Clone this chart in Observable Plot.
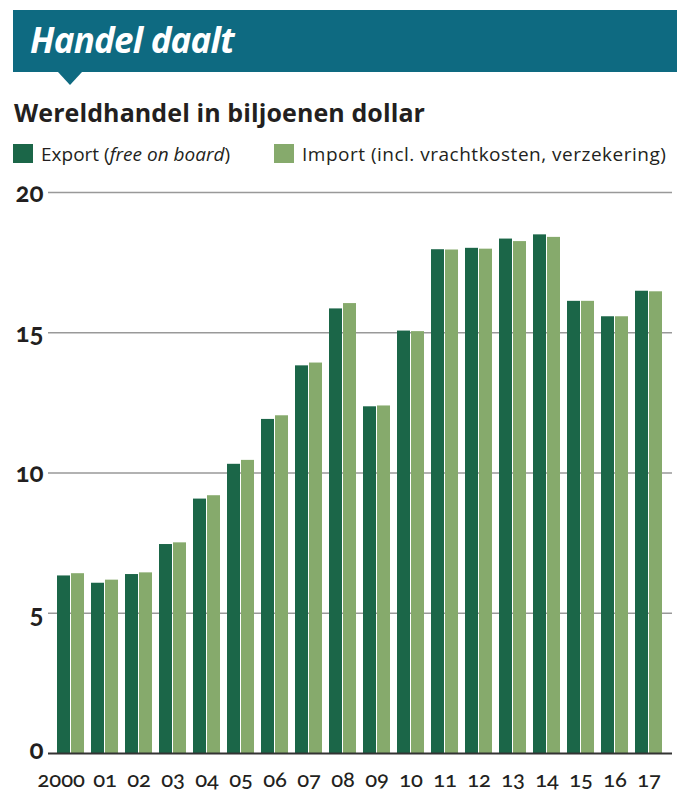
<!DOCTYPE html>
<html>
<head>
<meta charset="utf-8">
<script src="https://cdn.jsdelivr.net/npm/d3@7"></script>
<script src="https://cdn.jsdelivr.net/npm/@observablehq/plot@0.6"></script>
<style>
  html, body { margin: 0; padding: 0; background: #fff; }
  body { width: 694px; height: 802px; position: relative; overflow: hidden; font-family: "Open Sans", sans-serif; color: #231f20; }
  .banner { position: absolute; left: 13px; top: 10px; width: 664px; height: 62px; background: #0e6a81; }
  .pointer { position: absolute; left: 58px; top: 72px; width: 0; height: 0;
    border-left: 12.5px solid transparent; border-right: 12.5px solid transparent; border-top: 13px solid #0e6a81; }
  .title { position: absolute; left: 30px; top: 16px; font-family: "Open Sans", sans-serif; font-weight: 700; font-style: italic; font-size: 35px; line-height: 48px; color: #fff; letter-spacing: -0.8px; }
  .subtitle { position: absolute; left: 14px; top: 95px; font-family: "Open Sans", sans-serif; font-weight: 700; font-size: 25px; line-height: 34px; color: #231f20; letter-spacing: 0.1px; }
  .legend { position: absolute; top: 141px; left: 13px; font-family: "Open Sans", sans-serif; font-size: 19px; line-height: 26px; color: #231f20; }
  .item { position: absolute; top: 0; white-space: nowrap; }
  .sw { position: absolute; top: 3px; width: 20px; height: 19px; }
  .lab { position: absolute; left: 28px; top: 0; }
  #chart { position: absolute; left: 0; top: 170px; }
  #chart svg text { font-variant-numeric: oldstyle-nums; font-family: Lato, sans-serif; }
</style>
</head>
<body>
<div class="banner"></div>
<div class="pointer"></div>
<div class="title">Handel daalt</div>
<div class="subtitle">Wereldhandel in biljoenen dollar</div>
<div class="legend">
  <div class="item" style="left:0"><div class="sw" style="background:#1b6648"></div><div class="lab">Export (<i>free on board</i>)</div></div>
  <div class="item" style="left:261px"><div class="sw" style="background:#86aa6c"></div><div class="lab" style="letter-spacing:0.5px">Import (incl. vrachtkosten, verzekering)</div></div>
</div>
<div id="chart"></div>
<script>
const years = ["2000","01","02","03","04","05","06","07","08","09","10","11","12","13","14","15","16","17"];
const exportValues = [6.33, 6.07, 6.38, 7.45, 9.07, 10.31, 11.91, 13.82, 15.85, 12.36, 15.06, 17.96, 18.01, 18.34, 18.49, 16.12, 15.57, 16.48];
const importValues = [6.41, 6.18, 6.44, 7.51, 9.19, 10.45, 12.04, 13.92, 16.04, 12.39, 15.04, 17.95, 17.98, 18.25, 18.40, 16.12, 15.57, 16.46];
const yTicks = [0, 5, 10, 15, 20];
const exportColor = "#1b6648";
const importColor = "#86aa6c";

const rows = years.map((year, i) => ({year, exp: exportValues[i], imp: importValues[i]}));

const chart = Plot.plot({
  width: 694,
  height: 628,
  marginTop: 22,
  marginBottom: 45,
  marginLeft: 48,
  marginRight: 22,
  style: {fontFamily: "Lato, sans-serif", color: "#231f20", background: "transparent"},
  x: {domain: years, paddingInner: 0.194, paddingOuter: 0.086, axis: null, label: null},
  y: {domain: [0, 20], axis: null, label: null},
  marks: [
    Plot.ruleY(yTicks.filter(d => d > 0), {stroke: "#999", strokeWidth: 1.5}),
    Plot.barY(rows, {x: "year", y: "exp", fill: exportColor, insetRight: 14}),
    Plot.barY(rows, {x: "year", y: "imp", fill: importColor, insetLeft: 14}),
    Plot.ruleY([0], {stroke: "#333", strokeWidth: 2}),
    Plot.axisY(yTicks.filter(d => d > 0), {tickSize: 0, tickPadding: 5, fontSize: 26, fontWeight: 700, dy: 1, fill: "#231f20", label: null}),
    Plot.axisY(yTicks.filter(d => d === 0), {tickSize: 0, tickPadding: 5, fontSize: 26, fontWeight: 700, dy: -2.5, fill: "#231f20", label: null}),
    Plot.axisX(years.slice(1), {tickSize: 0, tickPadding: 18, fontSize: 22, fontWeight: 500, fill: "#231f20", label: null}),
    Plot.axisX(years.slice(0, 1), {tickSize: 0, tickPadding: 18, fontSize: 22, fontWeight: 500, fill: "#231f20", textAnchor: "end", dx: 14, label: null})
  ]
});
document.getElementById("chart").appendChild(chart);
</script>
</body>
</html>
